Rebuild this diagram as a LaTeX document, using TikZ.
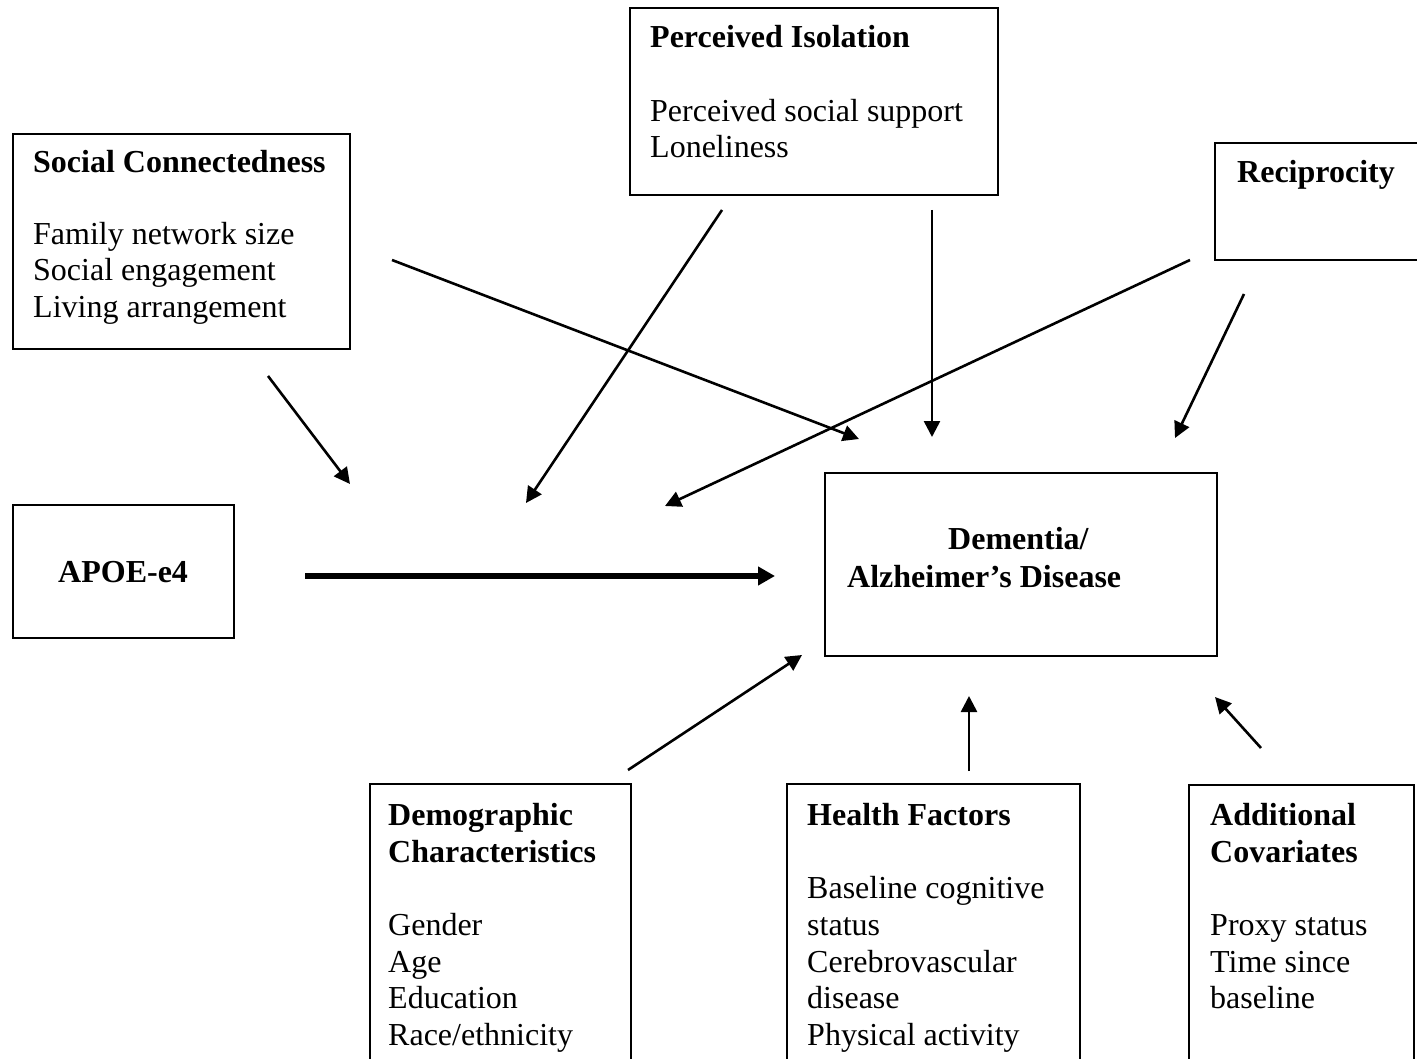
\documentclass[tikz,border=0pt]{standalone}
\usepackage{fontspec}
\setmainfont{Liberation Serif}
\usetikzlibrary{arrows.meta}
\begin{document}
\begin{tikzpicture}[x=1pt,y=-1pt,
  box/.style={draw,line width=2pt,inner sep=0pt,anchor=north west},
  txt/.style={anchor=base west,inner sep=0pt,font=\fontsize{32}{36.8}\selectfont},
  ttl/.style={anchor=base west,inner sep=0pt,font=\fontsize{32}{36.8}\selectfont\bfseries},
  conn/.style={line width=2.6pt,-{Triangle[length=16pt,width=16pt]}},
  bigconn/.style={line width=6pt,-{Triangle[length=17pt,width=18pt]}}]
\useasboundingbox (0,0) rectangle (1417,1059);
\clip (0,0) rectangle (1417,1059);
\fill[white] (0,0) rectangle (1417,1059);

% boxes
\node[box,minimum width=368pt,minimum height=187pt] (pi) at (629,7) {};
\node[box,minimum width=337pt,minimum height=215pt] (sc) at (12,133) {};
\node[box,minimum width=240pt,minimum height=117pt] (rec) at (1214,142) {};
\node[box,minimum width=221pt,minimum height=133pt] (apoe) at (12,504) {};
\node[box,minimum width=392pt,minimum height=183pt] (dem) at (824,472) {};
\node[box,minimum width=261pt,minimum height=320pt] (demo) at (369,783) {};
\node[box,minimum width=293pt,minimum height=320pt] (hf) at (786,783) {};
\node[box,minimum width=225pt,minimum height=320pt] (ac) at (1188,784) {};

% texts
\node[ttl] (piT) at (650,48) {Perceived Isolation};
\node[txt] (pi1) at (650,122) {Perceived social support};
\node[txt] (pi2) at (650,158) {Loneliness};

\node[ttl] (scT) at (33,173) {Social Connectedness};
\node[txt] (sc1) at (33,245) {Family network size};
\node[txt] (sc2) at (33,281) {Social engagement};
\node[txt] (sc3) at (33,318) {Living arrangement};

\node[ttl] (recT) at (1237,183) {Reciprocity};

\node[ttl] (apoeT) at (58,582) {APOE-e4};

\node[ttl] (demT1) at (948,549) {Dementia/};
\node[ttl] (demT2) at (847,587) {Alzheimer’s Disease};

\node[ttl] (demoT1) at (388,825) {Demographic};
\node[ttl] (demoT2) at (388,862) {Characteristics};
\node[txt] (demo1) at (388,935) {Gender};
\node[txt] (demo2) at (388,972) {Age};
\node[txt] (demo3) at (388,1008) {Education};
\node[txt] (demo4) at (388,1045) {Race/ethnicity};

\node[ttl] (hfT) at (807,825) {Health Factors};
\node[txt] (hf1) at (807,898) {Baseline cognitive};
\node[txt] (hf2) at (807,935) {status};
\node[txt] (hf3) at (807,972) {Cerebrovascular};
\node[txt] (hf4) at (807,1008) {disease};
\node[txt] (hf5) at (807,1045) {Physical activity};

\node[ttl] (acT1) at (1210,825) {Additional};
\node[ttl] (acT2) at (1210,862) {Covariates};
\node[txt] (ac1) at (1210,935) {Proxy status};
\node[txt] (ac2) at (1210,972) {Time since};
\node[txt] (ac3) at (1210,1008) {baseline};

% arrow end points
\coordinate (a1s) at (392,260);  \coordinate (a1e) at (859,439);
\coordinate (a2s) at (268,376);  \coordinate (a2e) at (350,484);
\coordinate (a3s) at (722,210);  \coordinate (a3e) at (526,503);
\coordinate (a4s) at (932,210);  \coordinate (a4e) at (932,437);
\coordinate (a5s) at (1190,260); \coordinate (a5e) at (665,506);
\coordinate (a6s) at (1244,294); \coordinate (a6e) at (1175,438);
\coordinate (a7s) at (305,576);  \coordinate (a7e) at (775,576);
\coordinate (a8s) at (628,770);  \coordinate (a8e) at (802,655);
\coordinate (a9s) at (969,771);  \coordinate (a9e) at (969,696);
\coordinate (a10s) at (1261,748); \coordinate (a10e) at (1215,697);

\draw[conn] (a1s) -- (a1e);
\draw[conn] (a2s) -- (a2e);
\draw[conn] (a3s) -- (a3e);
\draw[conn] (a4s) -- (a4e);
\draw[conn] (a5s) -- (a5e);
\draw[conn] (a6s) -- (a6e);
\draw[bigconn] (a7s) -- (a7e);
\draw[conn] (a8s) -- (a8e);
\draw[conn] (a9s) -- (a9e);
\draw[conn] (a10s) -- (a10e);
\end{tikzpicture}
\end{document}
